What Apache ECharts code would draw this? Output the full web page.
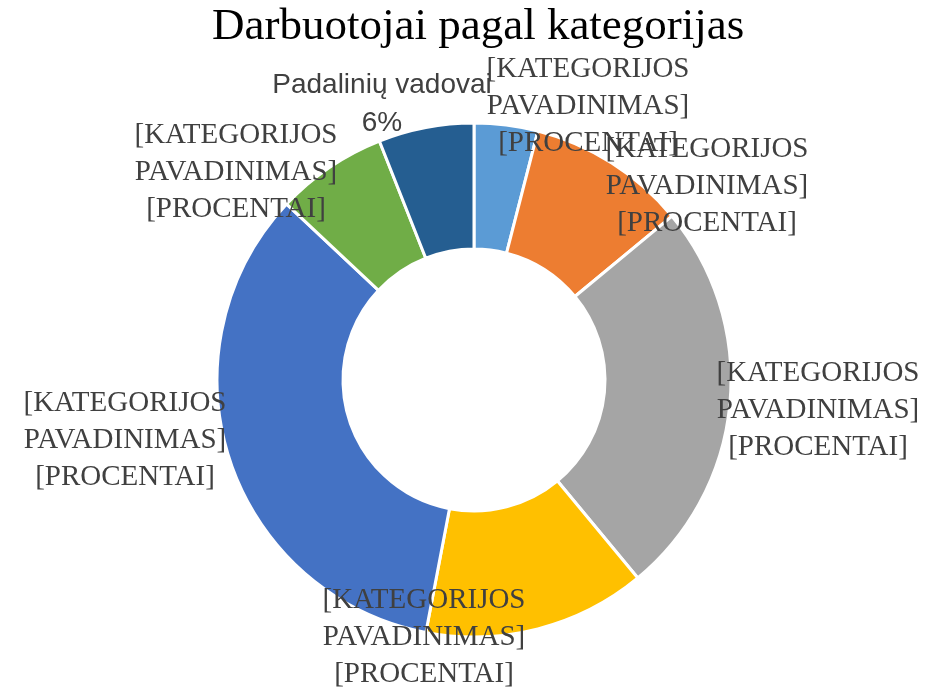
<!DOCTYPE html>
<html>
<head>
<meta charset="utf-8">
<script src="https://cdn.jsdelivr.net/npm/echarts@6/dist/echarts.min.js"></script>
<style>
  html, body { margin: 0; padding: 0; background: #fff; }
  #container { width: 928px; height: 689px; }
</style>
</head>
<body>
<div id="container"></div>
<script>
// slices clockwise from 12 o'clock
let categories = [
  '[KATEGORIJOS PAVADINIMAS] 1',
  '[KATEGORIJOS PAVADINIMAS] 2',
  '[KATEGORIJOS PAVADINIMAS] 3',
  '[KATEGORIJOS PAVADINIMAS] 4',
  '[KATEGORIJOS PAVADINIMAS] 5',
  '[KATEGORIJOS PAVADINIMAS] 6',
  'Padalinių vadovai',
];
let values = [4, 10, 25, 14, 34, 7, 6];
let colors = ['#5B9BD5', '#ED7D31', '#A5A5A5', '#FFC000', '#4472C4', '#70AD47', '#255E91'];
// label placeholder text, null = show real name + percent
let labelTexts = [
  '[KATEGORIJOS\nPAVADINIMAS]\n[PROCENTAI]',
  '[KATEGORIJOS\nPAVADINIMAS]\n[PROCENTAI]',
  '[KATEGORIJOS\nPAVADINIMAS]\n[PROCENTAI]',
  '[KATEGORIJOS\nPAVADINIMAS]\n[PROCENTAI]',
  '[KATEGORIJOS\nPAVADINIMAS]\n[PROCENTAI]',
  '[KATEGORIJOS\nPAVADINIMAS]\n[PROCENTAI]',
  null,
];

// where excel put the labels (centre of each text block)
let labelSpots = [
  [588, 106], [707, 186], [818, 410], [424, 637], [125, 440], [236, 172], [382, 104],
];

var myChart = echarts.init(document.getElementById('container'));

let pieData = values.map((v, i) => {
  let item = { value: v, name: categories[i], itemStyle: { color: colors[i] } };
  if (labelTexts[i] === null) {
    item.label = { fontFamily: 'Liberation Sans', fontSize: 28, lineHeight: 38 };
  }
  return item;
});

let option = {
  animation: false,
  title: {
    text: 'Darbuotojai pagal kategorijas',
    left: 207,
    top: 0,
    textStyle: {
      fontFamily: 'Liberation Serif',
      fontSize: 45,
      fontWeight: 'normal',
      color: '#000',
    },
  },
  series: [
    {
      type: 'pie',
      center: [474, 380],
      radius: [131, 257],
      startAngle: 90,
      clockwise: true,
      avoidLabelOverlap: false,
      itemStyle: {
        borderColor: '#fff',
        borderWidth: 3,
      },
      label: {
        show: true,
        position: 'outside',
        color: '#404040',
        fontFamily: 'Liberation Serif',
        fontSize: 29,
        lineHeight: 37,
        align: 'center',
        formatter: function (p) {
          let t = labelTexts[p.dataIndex];
          if (t) return t;
          return p.name + '\n' + Math.round(p.percent) + '%';
        },
      },
      labelLine: { show: false },
      labelLayout: function (p) {
        let s = labelSpots[p.dataIndex];
        return { x: s[0], y: s[1], align: 'center', verticalAlign: 'middle', moveOverlap: null };
      },
      emphasis: { disabled: true },
      data: pieData,
    },
  ],
};

myChart.setOption(option);
</script>
</body>
</html>
